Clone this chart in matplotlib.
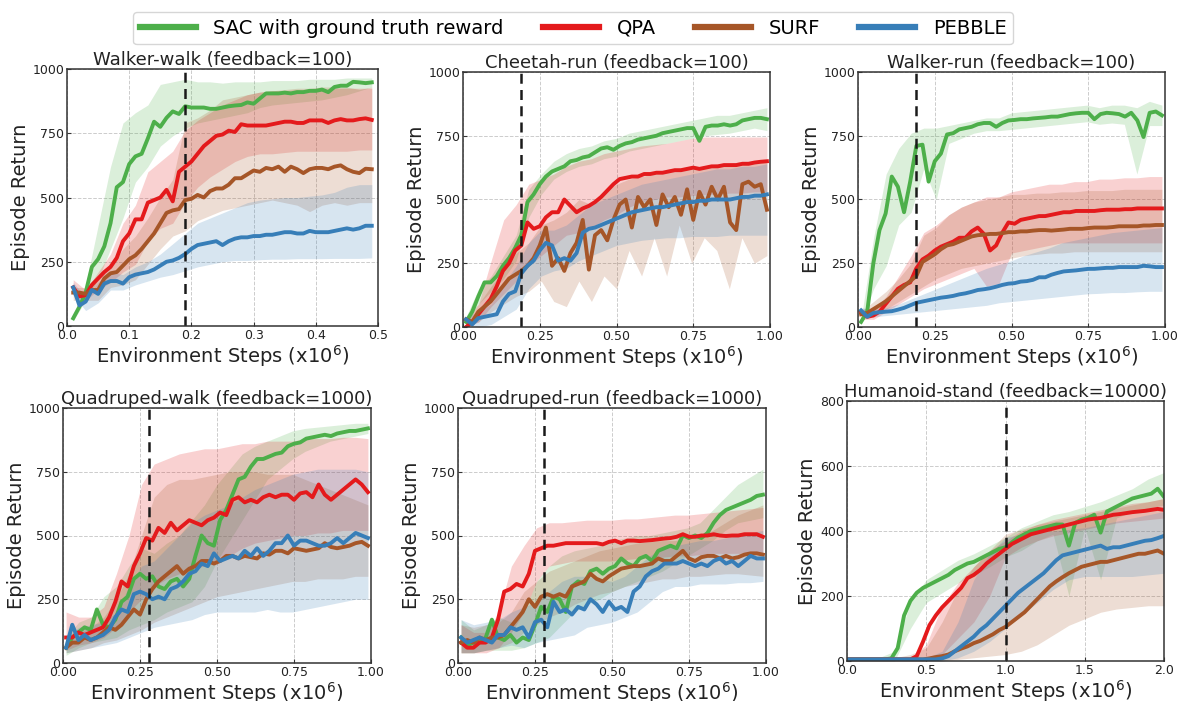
import numpy as np
import matplotlib
matplotlib.use("Agg")
import matplotlib.pyplot as plt

plt.rcParams['font.family'] = ['DejaVu Sans']

METHODS = ['SAC with ground truth reward', 'QPA', 'SURF', 'PEBBLE']
COLORS = ['#4daf4a', '#e41a1c', '#a65628', '#377eb8']

# ---------------- Walker-walk (feedback=100) ----------------
ww_x = np.round(np.arange(0.01, 0.495, 0.01), 2)
ww_sac = [30, 75, 130, 230, 260, 310, 400, 540, 560, 630,
          660, 670, 730, 795, 775, 810, 835, 825, 855, 850,
          850, 850, 845, 845, 850, 855, 858, 860, 870, 865,
          885, 905, 905, 905, 908, 905, 910, 910, 915, 915,
          920, 910, 930, 935, 935, 950, 948, 945, 948]
ww_qpa = [150, 115, 120, 160, 185, 210, 230, 265, 330, 360,
          415, 415, 480, 490, 500, 530, 485, 600, 620, 640,
          670, 700, 720, 740, 745, 760, 755, 785, 780, 780,
          780, 780, 785, 790, 795, 795, 790, 790, 800, 800,
          800, 790, 800, 805, 800, 800, 805, 808, 802]
ww_surf = [130, 130, 125, 140, 140, 185, 205, 210, 235, 260,
           275, 300, 330, 360, 400, 440, 450, 455, 490, 495,
           510, 500, 525, 535, 535, 550, 575, 575, 590, 605,
           600, 615, 610, 620, 600, 620, 610, 595, 610, 615,
           615, 610, 620, 625, 610, 600, 595, 612, 610]
ww_pebble = [150, 80, 95, 140, 125, 165, 175, 175, 165, 190,
             200, 205, 210, 220, 235, 250, 255, 265, 280, 300,
             315, 320, 325, 330, 315, 330, 340, 345, 345, 350,
             350, 355, 355, 360, 365, 365, 360, 360, 370, 365,
             365, 365, 370, 375, 380, 375, 380, 390, 390]
ww_band_x = np.round(np.arange(0.01, 0.495, 0.02), 2)
ww_sac_lo = [20, 100, 180, 300, 420, 560, 620, 700, 740, 770, 790, 800, 810,
             820, 830, 850, 860, 865, 870, 875, 880, 890, 900, 915, 930]
ww_sac_hi = [40, 160, 390, 620, 790, 830, 860, 940, 950, 960, 950, 950, 945,
             950, 950, 950, 955, 955, 955, 960, 960, 960, 965, 965, 965]
ww_qpa_lo = [120, 100, 140, 170, 210, 240, 330, 380, 400, 480, 540, 580, 610,
             640, 660, 670, 670, 675, 680, 680, 680, 680, 680, 685, 685]
ww_qpa_hi = [180, 140, 210, 280, 400, 470, 600, 640, 680, 760, 800, 830, 860,
             880, 900, 910, 915, 915, 920, 920, 920, 925, 925, 925, 925]
ww_surf_lo = [100, 100, 100, 150, 160, 180, 240, 300, 350, 370, 410, 430, 450,
              460, 470, 480, 490, 480, 470, 445, 470, 480, 470, 480, 480]
ww_surf_hi = [150, 150, 180, 230, 300, 350, 420, 500, 570, 790, 810, 840, 880,
              890, 900, 910, 915, 920, 925, 925, 930, 930, 930, 920, 930]
ww_pebble_lo = [120, 60, 90, 140, 140, 160, 175, 190, 200, 215, 230, 240, 250,
                255, 255, 258, 260, 260, 262, 262, 262, 263, 263, 263, 265]
ww_pebble_hi = [170, 110, 170, 210, 200, 230, 250, 280, 320, 360, 400, 420, 440,
                460, 480, 490, 495, 500, 500, 505, 510, 520, 540, 550, 550]

# ---------------- Cheetah-run (feedback=100) ----------------
step_x = np.round(np.arange(0.01, 1.0, 0.02), 2)
band_x = np.linspace(0.01, 0.99, 25)

cr_sac = [20, 60, 120, 175, 175, 200, 240, 270, 310, 360,
          490, 520, 560, 590, 610, 620, 630, 650, 655, 665,
          670, 685, 700, 705, 695, 710, 720, 725, 735, 740,
          745, 750, 760, 765, 770, 775, 780, 780, 730, 785,
          790, 790, 795, 790, 795, 810, 815, 820, 820, 815]
cr_qpa = [0, 20, 50, 80, 110, 160, 220, 250, 300, 320,
          410, 385, 395, 430, 450, 450, 500, 475, 450, 465,
          475, 490, 510, 535, 560, 580, 585, 590, 590, 600,
          600, 605, 605, 610, 615, 615, 620, 625, 620, 625,
          630, 630, 635, 635, 635, 640, 640, 645, 648, 650]
cr_surf = [30, 20, 60, 80, 100, 130, 160, 190, 205, 220,
           240, 270, 320, 390, 240, 270, 220, 290, 330, 420,
           225, 360, 380, 340, 420, 480, 500, 390, 510, 470,
           500, 400, 520, 470, 510, 440, 540, 420, 530, 480,
           550, 500, 550, 410, 380, 560, 570, 550, 560, 460]
cr_pebble = [30, 10, 35, 40, 45, 50, 100, 130, 140, 210,
             240, 260, 300, 330, 320, 260, 270, 260, 290, 370,
             385, 390, 400, 410, 420, 430, 440, 450, 455, 460,
             465, 470, 470, 475, 480, 485, 490, 490, 495, 495,
             500, 500, 500, 500, 505, 510, 510, 515, 515, 520]
cr_sac_lo = [10, 90, 140, 190, 260, 430, 520, 580, 610, 630, 640, 660, 670,
             690, 700, 710, 720, 730, 740, 750, 755, 760, 770, 780, 770]
cr_sac_hi = [40, 150, 200, 280, 360, 540, 600, 650, 680, 700, 710, 730, 740,
             760, 770, 780, 790, 800, 810, 820, 830, 830, 840, 850, 860]
cr_qpa_lo = [0, 20, 80, 130, 180, 240, 280, 320, 360, 370, 390, 420, 440,
             470, 490, 500, 510, 510, 515, 520, 520, 525, 525, 530, 530]
cr_qpa_hi = [10, 90, 260, 420, 480, 560, 580, 600, 630, 650, 660, 680, 690,
             700, 710, 715, 720, 730, 740, 745, 745, 745, 745, 745, 745]
cr_surf_lo = [0, 20, 60, 90, 120, 140, 180, 100, 80, 180, 100, 200, 150,
              300, 200, 350, 200, 400, 250, 350, 300, 150, 350, 250, 280]
cr_surf_hi = [40, 90, 160, 220, 290, 330, 400, 420, 450, 500, 480, 530, 560,
              580, 590, 600, 610, 620, 620, 630, 640, 640, 650, 650, 650]
cr_pebble_lo = [10, 0, 10, 40, 70, 150, 200, 220, 230, 260, 280, 300, 320,
                330, 340, 345, 350, 350, 355, 355, 355, 360, 360, 360, 360]
cr_pebble_hi = [40, 60, 90, 170, 240, 330, 380, 380, 400, 440, 480, 500, 520,
                540, 560, 570, 580, 590, 600, 610, 620, 620, 630, 630, 640]

# ---------------- Walker-run (feedback=100) ----------------
wr_sac = [20, 60, 250, 380, 445, 590, 550, 450, 570, 710,
          715, 570, 650, 680, 755, 760, 775, 780, 785, 795,
          800, 800, 785, 800, 810, 812, 815, 815, 818, 820,
          822, 825, 825, 830, 835, 838, 840, 840, 815, 835,
          840, 838, 835, 825, 840, 810, 745, 840, 845, 830]
wr_qpa = [60, 40, 45, 60, 90, 120, 150, 165, 175, 230,
          265, 280, 300, 315, 325, 335, 350, 350, 375, 390,
          365, 300, 320, 370, 410, 405, 420, 425, 430, 435,
          435, 440, 445, 450, 450, 455, 455, 455, 455, 458,
          460, 460, 460, 462, 462, 465, 465, 465, 465, 465]
wr_surf = [50, 55, 70, 85, 100, 120, 140, 160, 180, 200,
           255, 270, 285, 305, 320, 325, 335, 345, 355, 360,
           362, 365, 365, 368, 372, 372, 375, 375, 378, 380,
           380, 378, 380, 382, 385, 385, 385, 388, 390, 390,
           390, 392, 395, 395, 395, 395, 398, 398, 400, 400]
wr_pebble = [65, 40, 55, 58, 60, 62, 68, 75, 85, 95,
             100, 105, 110, 115, 118, 122, 128, 132, 138, 145,
             148, 152, 158, 165, 170, 172, 178, 180, 185, 195,
             195, 205, 212, 218, 220, 222, 225, 228, 228, 230,
             232, 232, 235, 235, 235, 235, 240, 238, 235, 235]
wr_sac_lo = [15, 150, 240, 400, 450, 620, 500, 720, 740, 760, 770, 770, 775,
             780, 785, 790, 795, 800, 805, 795, 800, 795, 600, 790, 790]
wr_sac_hi = [30, 350, 600, 700, 760, 780, 780, 790, 800, 810, 820, 820, 840,
             845, 850, 855, 860, 865, 870, 860, 870, 870, 860, 885, 870]
wr_qpa_lo = [30, 30, 60, 90, 120, 150, 170, 190, 210, 230, 160, 170, 290,
             300, 310, 320, 330, 330, 330, 330, 330, 330, 330, 330, 330]
wr_qpa_hi = [70, 70, 120, 200, 280, 370, 400, 440, 470, 490, 510, 510, 530,
             540, 550, 560, 560, 570, 570, 580, 580, 585, 585, 590, 590]
wr_surf_lo = [40, 50, 70, 100, 130, 160, 190, 210, 230, 240, 250, 260, 270,
              280, 285, 290, 290, 295, 295, 295, 295, 295, 295, 295, 295]
wr_surf_hi = [60, 100, 140, 190, 250, 360, 390, 440, 470, 490, 500, 510, 520,
              520, 525, 525, 530, 530, 535, 535, 535, 540, 540, 540, 540]
wr_pebble_lo = [50, 40, 45, 50, 55, 60, 65, 70, 75, 80, 85, 95, 100,
                105, 110, 115, 120, 125, 130, 132, 135, 135, 138, 140, 140]
wr_pebble_hi = [75, 70, 75, 90, 110, 130, 150, 170, 190, 210, 230, 245, 260,
                280, 295, 310, 330, 340, 350, 360, 370, 375, 380, 385, 390]

# ---------------- Quadruped-walk (feedback=1000) ----------------
qw_sac = [60, 100, 120, 140, 130, 210, 150, 140, 170, 240,
          260, 330, 350, 330, 340, 300, 290, 320, 330, 300,
          330, 420, 500, 470, 460, 560, 600, 660, 720, 730,
          770, 800, 800, 810, 820, 825, 850, 860, 865, 880,
          885, 890, 895, 890, 900, 905, 910, 910, 915, 920]
qw_qpa = [100, 100, 120, 110, 120, 130, 140, 180, 240, 320,
          300, 380, 430, 490, 480, 530, 510, 550, 520, 540,
          560, 550, 540, 560, 570, 590, 580, 640, 650, 630,
          640, 630, 650, 660, 650, 660, 660, 640, 665, 670,
          650, 700, 660, 640, 660, 680, 700, 720, 700, 670]
qw_surf = [60, 80, 80, 100, 90, 100, 120, 140, 130, 150,
           180, 210, 190, 250, 290, 320, 340, 360, 380, 350,
           370, 380, 400, 400, 390, 400, 420, 420, 410, 420,
           415, 410, 430, 425, 440, 440, 430, 450, 445, 440,
           445, 450, 470, 455, 450, 455, 460, 470, 475, 460]
qw_pebble = [60, 150, 90, 110, 90, 100, 110, 130, 180, 210,
             200, 270, 280, 270, 250, 260, 250, 290, 300, 320,
             350, 360, 390, 380, 430, 400, 410, 420, 410, 440,
             420, 450, 420, 440, 470, 470, 500, 460, 480, 480,
             470, 460, 460, 470, 490, 470, 490, 510, 500, 490]
qw_sac_lo = [30, 60, 80, 90, 100, 130, 150, 170, 200, 220, 240, 300, 400,
             480, 560, 640, 720, 760, 800, 830, 850, 870, 880, 890, 900]
qw_sac_hi = [100, 160, 180, 260, 300, 380, 450, 430, 470, 500, 560, 620, 700,
             760, 820, 850, 870, 890, 910, 920, 925, 930, 935, 940, 940]
qw_qpa_lo = [50, 70, 80, 100, 140, 200, 250, 300, 330, 350, 370, 380, 400,
             420, 450, 470, 480, 490, 500, 500, 510, 510, 520, 520, 520]
qw_qpa_hi = [200, 180, 180, 220, 350, 500, 700, 780, 800, 820, 830, 840, 840,
             850, 860, 860, 870, 870, 870, 880, 880, 880, 885, 885, 880]
qw_surf_lo = [40, 50, 60, 80, 90, 110, 130, 160, 180, 200, 220, 240, 260,
              270, 280, 290, 300, 310, 320, 320, 330, 330, 330, 340, 340]
qw_surf_hi = [100, 120, 140, 180, 250, 350, 500, 650, 700, 720, 720, 730, 740,
              750, 750, 750, 740, 740, 740, 720, 700, 680, 660, 640, 620]
qw_pebble_lo = [40, 50, 60, 70, 80, 100, 120, 140, 150, 160, 170, 190, 200,
                200, 200, 200, 210, 200, 200, 210, 220, 230, 240, 250, 250]
qw_pebble_hi = [100, 140, 150, 160, 200, 300, 380, 400, 450, 500, 550, 580, 600,
                620, 650, 680, 700, 720, 740, 750, 760, 760, 760, 760, 750]

# ---------------- Quadruped-run (feedback=1000) ----------------
qr_sac = [100, 70, 80, 80, 100, 170, 100, 90, 110, 80,
          100, 90, 150, 220, 200, 260, 250, 200, 300, 320,
          310, 360, 370, 350, 370, 380, 410, 390, 380, 410,
          420, 400, 440, 450, 460, 450, 500, 490, 500, 490,
          510, 550, 580, 600, 610, 620, 630, 640, 655, 660]
qr_qpa = [80, 60, 60, 80, 80, 100, 170, 280, 290, 310,
          300, 350, 440, 450, 460, 460, 465, 470, 470, 470,
          470, 470, 470, 465, 475, 480, 470, 480, 480, 478,
          480, 482, 485, 488, 490, 495, 505, 495, 495, 500,
          500, 505, 500, 498, 500, 500, 505, 505, 505, 495]
qr_surf = [80, 90, 80, 100, 90, 100, 100, 110, 140, 170,
           200, 250, 220, 260, 270, 260, 270, 260, 300, 310,
           320, 350, 330, 320, 340, 355, 370, 375, 380, 380,
           385, 390, 410, 400, 400, 420, 440, 410, 400, 415,
           420, 420, 410, 420, 410, 415, 425, 430, 430, 425]
qr_pebble = [100, 80, 90, 100, 90, 80, 110, 110, 140, 130,
             140, 100, 160, 170, 140, 240, 200, 210, 190, 220,
             210, 250, 230, 200, 240, 210, 220, 200, 280, 300,
             340, 360, 370, 390, 390, 390, 400, 390, 380, 390,
             380, 400, 410, 390, 400, 380, 400, 420, 410, 410]
qr_sac_lo = [40, 40, 50, 50, 50, 60, 80, 100, 150, 200, 230, 250, 280,
             300, 320, 340, 360, 390, 420, 450, 480, 520, 550, 560, 570]
qr_sac_hi = [170, 130, 150, 180, 160, 200, 320, 380, 420, 440, 450, 460, 480,
             490, 500, 500, 510, 520, 530, 550, 600, 650, 700, 730, 760]
qr_qpa_lo = [40, 40, 40, 60, 120, 200, 320, 380, 390, 400, 400, 400, 400,
             405, 410, 410, 415, 420, 420, 425, 430, 430, 430, 430, 430]
qr_qpa_hi = [150, 120, 120, 200, 380, 460, 530, 550, 550, 555, 560, 560, 560,
             565, 565, 570, 575, 580, 580, 585, 590, 595, 600, 605, 610]
qr_surf_lo = [40, 40, 50, 60, 80, 120, 150, 180, 200, 230, 250, 270, 280,
              300, 310, 320, 330, 330, 340, 340, 345, 350, 350, 345, 340]
qr_surf_hi = [150, 140, 150, 160, 200, 280, 320, 360, 380, 400, 420, 440, 450,
              460, 470, 475, 480, 480, 490, 500, 520, 550, 580, 600, 620]
qr_pebble_lo = [40, 40, 50, 60, 70, 60, 80, 90, 100, 110, 140, 150, 160,
                180, 200, 240, 280, 300, 300, 310, 310, 310, 315, 315, 320]
qr_pebble_hi = [170, 150, 160, 170, 200, 220, 240, 280, 320, 340, 340, 330, 320,
                340, 380, 420, 450, 460, 470, 480, 480, 490, 500, 510, 520]

# ---------------- Humanoid-stand (feedback=10000) ----------------
hs_x = np.round(np.arange(0.0, 2.001, 0.04), 2)
hs_sac = [5, 5, 5, 5, 5, 5, 5, 8, 40, 140,
          185, 210, 225, 235, 245, 255, 265, 280, 290, 300,
          305, 315, 325, 335, 345, 350, 365, 380, 390, 400,
          405, 410, 415, 420, 420, 355, 425, 435, 440, 450,
          395, 460, 470, 480, 490, 500, 505, 510, 515, 530, 505]
hs_qpa = [5, 5, 5, 5, 5, 5, 5, 5, 5, 5,
          5, 15, 60, 110, 140, 165, 185, 205, 225, 255,
          265, 280, 300, 315, 330, 345, 360, 370, 380, 390,
          395, 400, 405, 410, 415, 420, 425, 430, 435, 438,
          440, 445, 450, 452, 455, 458, 460, 462, 465, 468, 465]
hs_surf = [5, 5, 5, 5, 5, 5, 5, 5, 5, 5,
           5, 5, 5, 8, 12, 15, 20, 30, 38, 45,
           55, 62, 72, 82, 95, 105, 120, 135, 150, 170,
           190, 210, 230, 245, 258, 270, 280, 290, 295, 300,
           305, 305, 310, 315, 320, 325, 330, 330, 335, 340, 330]
hs_pebble = [5, 5, 5, 5, 5, 5, 5, 5, 5, 5,
             5, 5, 5, 5, 5, 8, 15, 30, 45, 60,
             75, 95, 110, 130, 150, 170, 190, 210, 225, 240,
             255, 270, 290, 310, 325, 330, 335, 340, 345, 350,
             355, 345, 350, 350, 355, 360, 365, 370, 372, 378, 385]
hs_band_x = np.round(np.arange(0.0, 2.001, 0.1), 1)
hs_sac_lo = [0, 0, 0, 0, 100, 180, 210, 240, 265, 290, 320,
             340, 370, 390, 200, 410, 250, 440, 460, 470, 480]
hs_sac_hi = [10, 10, 10, 30, 180, 250, 280, 310, 330, 355, 380,
             410, 430, 450, 460, 475, 490, 510, 530, 560, 580]
hs_qpa_lo = [0, 0, 0, 0, 0, 0, 20, 70, 120, 200, 320,
             350, 370, 385, 395, 405, 415, 425, 430, 435, 440]
hs_qpa_hi = [10, 10, 10, 10, 10, 50, 170, 240, 290, 340, 370,
             400, 420, 435, 445, 455, 465, 475, 485, 490, 500]
hs_surf_lo = [0, 0, 0, 0, 0, 0, 0, 5, 10, 15, 20,
              30, 50, 80, 110, 130, 150, 160, 165, 170, 170]
hs_surf_hi = [10, 10, 10, 10, 20, 40, 120, 220, 290, 340, 390,
              405, 420, 430, 440, 450, 460, 470, 480, 490, 500]
hs_pebble_lo = [0, 0, 0, 0, 0, 0, 0, 10, 30, 60, 100,
                140, 180, 220, 250, 260, 260, 260, 260, 265, 270]
hs_pebble_hi = [10, 10, 10, 10, 10, 10, 30, 120, 250, 330, 380,
                390, 395, 400, 405, 410, 420, 430, 440, 450, 460]

panels = [
    dict(title='Walker-walk (feedback=100)', x=ww_x, bx=ww_band_x,
         means=[ww_sac, ww_qpa, ww_surf, ww_pebble],
         lows=[ww_sac_lo, ww_qpa_lo, ww_surf_lo, ww_pebble_lo],
         highs=[ww_sac_hi, ww_qpa_hi, ww_surf_hi, ww_pebble_hi],
         xlim=(0, 0.5), xticks=[0.0, 0.1, 0.2, 0.3, 0.4, 0.5], xfmt='{:.1f}',
         ylim=(0, 1000), yticks=[0, 250, 500, 750, 1000], vline=0.19,
         box=(67, 69, 378, 326)),
    dict(title='Cheetah-run (feedback=100)', x=step_x, bx=band_x,
         means=[cr_sac, cr_qpa, cr_surf, cr_pebble],
         lows=[cr_sac_lo, cr_qpa_lo, cr_surf_lo, cr_pebble_lo],
         highs=[cr_sac_hi, cr_qpa_hi, cr_surf_hi, cr_pebble_hi],
         xlim=(0, 1), xticks=[0, 0.25, 0.5, 0.75, 1.0], xfmt='{:.2f}',
         ylim=(0, 1000), yticks=[0, 250, 500, 750, 1000], vline=0.19,
         box=(463, 72, 770, 327)),
    dict(title='Walker-run (feedback=100)', x=step_x, bx=band_x,
         means=[wr_sac, wr_qpa, wr_surf, wr_pebble],
         lows=[wr_sac_lo, wr_qpa_lo, wr_surf_lo, wr_pebble_lo],
         highs=[wr_sac_hi, wr_qpa_hi, wr_surf_hi, wr_pebble_hi],
         xlim=(0, 1), xticks=[0, 0.25, 0.5, 0.75, 1.0], xfmt='{:.2f}',
         ylim=(0, 1000), yticks=[0, 250, 500, 750, 1000], vline=0.19,
         box=(858, 72, 1165, 327)),
    dict(title='Quadruped-walk (feedback=1000)', x=step_x, bx=band_x,
         means=[qw_sac, qw_qpa, qw_surf, qw_pebble],
         lows=[qw_sac_lo, qw_qpa_lo, qw_surf_lo, qw_pebble_lo],
         highs=[qw_sac_hi, qw_qpa_hi, qw_surf_hi, qw_pebble_hi],
         xlim=(0, 1), xticks=[0, 0.25, 0.5, 0.75, 1.0], xfmt='{:.2f}',
         ylim=(0, 1000), yticks=[0, 250, 500, 750, 1000], vline=0.28,
         box=(63, 408, 371, 663)),
    dict(title='Quadruped-run (feedback=1000)', x=step_x, bx=band_x,
         means=[qr_sac, qr_qpa, qr_surf, qr_pebble],
         lows=[qr_sac_lo, qr_qpa_lo, qr_surf_lo, qr_pebble_lo],
         highs=[qr_sac_hi, qr_qpa_hi, qr_surf_hi, qr_pebble_hi],
         xlim=(0, 1), xticks=[0, 0.25, 0.5, 0.75, 1.0], xfmt='{:.2f}',
         ylim=(0, 1000), yticks=[0, 250, 500, 750, 1000], vline=0.28,
         box=(458, 408, 766, 663)),
    dict(title='Humanoid-stand (feedback=10000)', x=hs_x, bx=hs_band_x,
         means=[hs_sac, hs_qpa, hs_surf, hs_pebble],
         lows=[hs_sac_lo, hs_qpa_lo, hs_surf_lo, hs_pebble_lo],
         highs=[hs_sac_hi, hs_qpa_hi, hs_surf_hi, hs_pebble_hi],
         xlim=(0, 2), xticks=[0, 0.5, 1.0, 1.5, 2.0], xfmt='{:.1f}',
         ylim=(0, 800), yticks=[0, 200, 400, 600, 800], vline=1.0,
         box=(847, 401, 1164, 661)),
]

W, H = 1179, 701
fig = plt.figure(figsize=(W / 100, H / 100), dpi=100)

handles = []
for p in panels:
    l, t, r, b = p['box']
    ax = fig.add_axes([l / W, 1 - b / H, (r - l) / W, (b - t) / H])

    # shaded spread first so the mean curves sit on top
    for lo, hi, c in zip(p['lows'], p['highs'], COLORS):
        ax.fill_between(p['bx'], lo, hi, color=c, alpha=0.2, linewidth=0)
    lines = []
    for y, c, name in zip(p['means'], COLORS, METHODS):
        ln, = ax.plot(p['x'], y, color=c, lw=2.8, label=name)
        lines.append(ln)
    if not handles:
        handles = lines

    ax.axvline(p['vline'], color='#1a1a1a', lw=1.8, ls=(0, (4, 2.5)))

    ax.set_xlim(*p['xlim'])
    ax.set_ylim(*p['ylim'])
    ax.set_xticks(p['xticks'])
    ax.set_xticklabels([p['xfmt'].format(v) for v in p['xticks']])
    ax.set_yticks(p['yticks'])
    ax.grid(True, color='#cccccc', ls='--', lw=0.7)
    ax.set_axisbelow(True)
    ax.tick_params(direction='in', length=3, labelsize=9, colors='#333333',
                   labelcolor='#222222', pad=2)
    for s in ax.spines.values():
        s.set_color('#333333')
        s.set_linewidth(1.1)

    ax.set_title(p['title'], fontsize=13, color='#222222', pad=2)
    ax.set_ylabel('Episode Return', fontsize=14, color='#222222', labelpad=2)
    ax.set_xlabel('Environment Steps (x10$^6$)', fontsize=14, color='#222222',
                  labelpad=1)

fig.legend(handles, METHODS, loc='upper center', bbox_to_anchor=(573 / W, 0.997),
           ncol=4, fontsize=14, handlelength=2.9, handletextpad=0.9,
           columnspacing=2.0, frameon=True, fancybox=True, edgecolor='#cccccc',
           borderpad=0.35)
for lh in fig.legends[0].get_lines():
    lh.set_linewidth(4.5)

fig.savefig('out.png', dpi=100)
